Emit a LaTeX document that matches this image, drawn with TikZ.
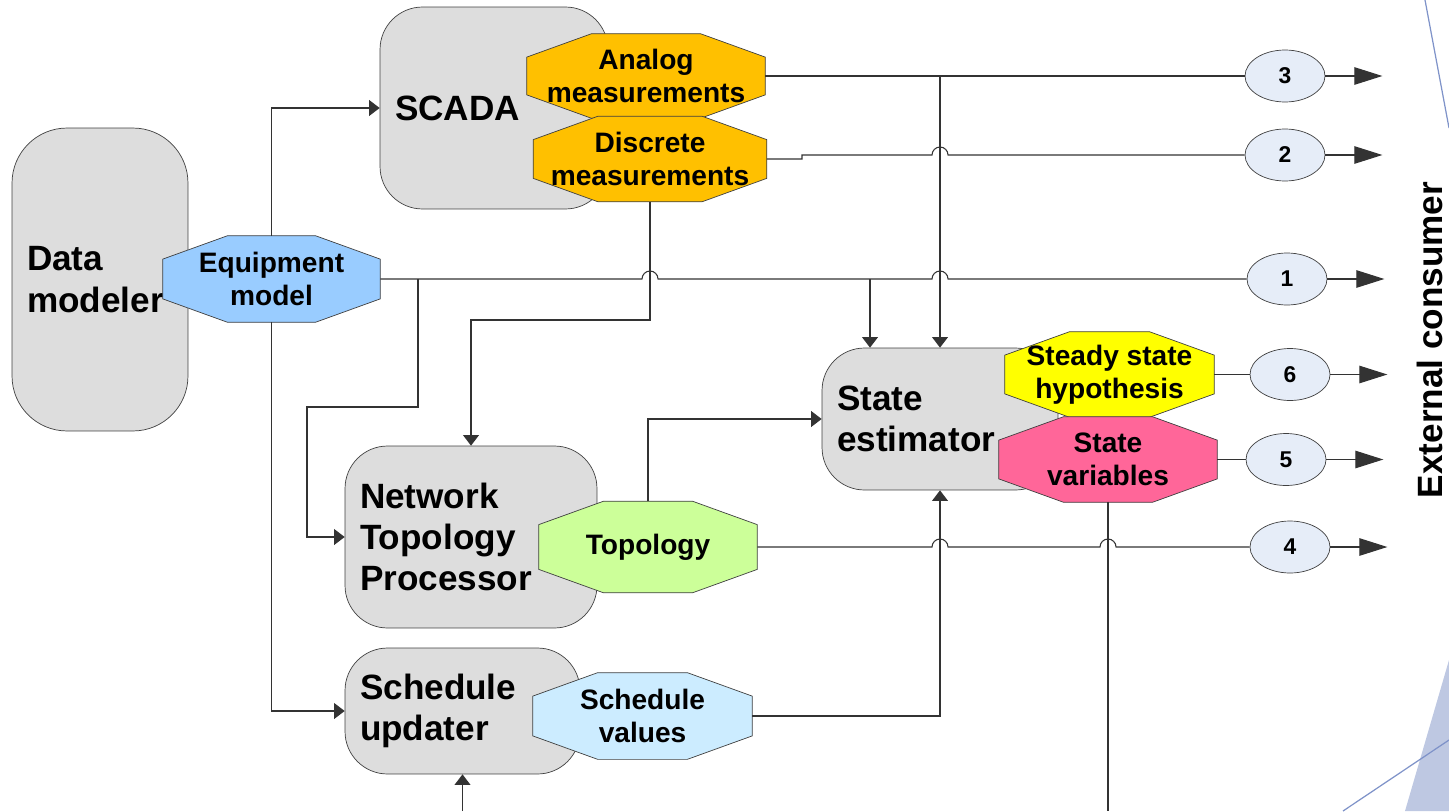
\documentclass[tikz,border=0pt]{standalone}
\usepackage{fontspec}
\setmainfont{Liberation Sans}
\usepackage{xcolor}
\usetikzlibrary{shapes.geometric, arrows.meta}

\definecolor{procgray}{HTML}{DDDDDD}
\definecolor{measorange}{HTML}{FFC000}
\definecolor{eqblue}{HTML}{99CCFF}
\definecolor{topogreen}{HTML}{CCFF99}
\definecolor{schedblue}{HTML}{CCECFF}
\definecolor{hypyellow}{HTML}{FFFF00}
\definecolor{varpink}{HTML}{FF6699}
\definecolor{outfill}{HTML}{E6EDF8}
\definecolor{decoblue}{HTML}{7F93C9}
\definecolor{decofill}{HTML}{BEC8E2}

% stretched octagon for the data sets
\newdimen\octxa \newdimen\octya \newdimen\octxb \newdimen\octyb
\def\octcutx{1.3cm}
\def\octcuty{0.47cm}
\pgfdeclareshape{octabox}{
  \inheritsavedanchors[from=rectangle]
  \inheritanchorborder[from=rectangle]
  \inheritanchor[from=rectangle]{center}
  \inheritanchor[from=rectangle]{north}
  \inheritanchor[from=rectangle]{south}
  \inheritanchor[from=rectangle]{east}
  \inheritanchor[from=rectangle]{west}
  \backgroundpath{
    \pgfextractx{\octxa}{\southwest}\pgfextracty{\octya}{\southwest}
    \pgfextractx{\octxb}{\northeast}\pgfextracty{\octyb}{\northeast}
    \pgfpathmoveto{\pgfpoint{\octxa}{\octya+\octcuty}}
    \pgfpathlineto{\pgfpoint{\octxa}{\octyb-\octcuty}}
    \pgfpathlineto{\pgfpoint{\octxa+\octcutx}{\octyb}}
    \pgfpathlineto{\pgfpoint{\octxb-\octcutx}{\octyb}}
    \pgfpathlineto{\pgfpoint{\octxb}{\octyb-\octcuty}}
    \pgfpathlineto{\pgfpoint{\octxb}{\octya+\octcuty}}
    \pgfpathlineto{\pgfpoint{\octxb-\octcutx}{\octya}}
    \pgfpathlineto{\pgfpoint{\octxa+\octcutx}{\octya}}
    \pgfpathclose
  }
}

\begin{document}
\begin{tikzpicture}[
    x = 0.02cm, y = -0.02cm,
    process/.style = {
        draw=black!75, fill=procgray, rectangle, rounded corners=0.85cm,
        align=left, inner xsep=0.3cm, inner ysep=0pt,
        font=\bfseries\fontsize{20}{23.5}\selectfont
    },
    store/.style = {
        draw=black!75, fill=#1, octabox,
        align=center, inner sep=0pt,
        font=\bfseries\fontsize{16}{18.5}\selectfont
    },
    consumer/.style = {
        draw=black!75, fill=outfill, ellipse,
        minimum width=1.6cm, minimum height=1.04cm, inner sep=0pt,
        font=\bfseries\fontsize{13}{15}\selectfont
    },
    flow/.style = {draw=black!80, line width=0.6pt},
    feedarrow/.style = {flow, -{Triangle[length=6pt, width=9pt]}},
    sinkarrow/.style = {flow, -{Triangle[length=16pt, width=10pt]}}
  ]
    \useasboundingbox (0,0) rectangle (1449,811);

    % decoration at the right edge
    \fill[decofill] (1449,660) -- (1405,811) -- (1449,811) -- cycle;
    \draw[decoblue, line width=0.7pt] (1425,0) -- (1449,128);
    \draw[decoblue, line width=0.7pt] (1343,811) -- (1449,740);

    % processes
    \node[process, text width=2.92cm, minimum height=6.06cm, rounded corners=1.1cm]
        (dm) at (100,279.5) {Data\\modeler};
    \node[process, text width=3.96cm, minimum height=4.04cm] (scada) at (494,108) {SCADA};
    \node[process, text width=4.44cm, minimum height=3.64cm] (ntp) at (471,537) {Network\\Topology\\Processor};
    \node[process, text width=4.10cm, minimum height=2.52cm] (sched) at (462.5,711) {Schedule\\updater};
    \node[process, text width=4.12cm, minimum height=2.84cm] (se) at (940,419) {State\\estimator};

    % data sets
    \node[store=eqblue, minimum width=4.34cm, minimum height=1.72cm] (eqmodel) at (271.5,279) {Equipment\\model};
    \node[store=measorange, minimum width=4.76cm, minimum height=1.68cm] (analog) at (646,76) {Analog\\measurements};
    \node[store=measorange, minimum width=4.66cm, minimum height=1.70cm] (discrete) at (650,159) {Discrete\\measurements};
    \node[store=topogreen, minimum width=4.36cm, minimum height=1.82cm] (topo) at (648,547) {Topology};
    \node[store=schedblue, minimum width=4.38cm, minimum height=1.72cm] (schedval) at (642.5,716) {Schedule\\values};
    \node[store=hypyellow, minimum width=4.18cm, minimum height=1.70cm] (steady) at (1109.5,374.5) {Steady state\\hypothesis};
    \node[store=varpink, minimum width=4.36cm, minimum height=1.70cm] (statevar) at (1108,459.5) {State\\variables};

    % outputs
    \node[consumer] (c3) at (1285,76) {3};
    \node[consumer] (c2) at (1285,155) {2};
    \node[consumer] (c1) at (1287,279) {1};
    \node[consumer] (c6) at (1290,374.5) {6};
    \node[consumer] (c5) at (1286,459.5) {5};
    \node[consumer] (c4) at (1290,547) {4};
    \node[rotate=90, font=\bfseries\fontsize{20}{24}\selectfont] (ext) at (1430,340) {External consumer};

    % junctions and loose ends
    \coordinate (anse) at (940,76);
    \coordinate (eqse) at (870,279);
    \coordinate (eqntp) at (418,279);
    \coordinate (schedsrc) at (462.5,811);
    \coordinate (varsink) at (1108,811);

    % equipment model
    \draw[feedarrow] (eqmodel.north) |- (scada.west);
    \draw[feedarrow] (eqmodel.south) |- (sched.west);
    \draw[flow] (eqmodel.east) -- (642,279) arc[start angle=180, end angle=360, radius=8]
        -- (932,279) arc[start angle=180, end angle=360, radius=8] -- (c1.west);
    \draw[feedarrow] (eqse) -- (eqse |- se.north);
    \draw[feedarrow] (eqntp) -- (418,407) -- (307,407) |- (ntp.west);

    % measurements
    \draw[flow] (analog.east) -- (c3.west);
    \draw[feedarrow] (anse) -- (se.north);
    \draw[flow] (discrete.east) -- (802,159) -- (802,155) -- (932,155)
        arc[start angle=180, end angle=360, radius=8] -- (c2.west);
    \draw[feedarrow] (discrete.south) -- (650,320) -| (ntp.north);

    % topology and schedules
    \draw[feedarrow] (topo.north) |- (se.west);
    \draw[flow] (topo.east) -- (932,547) arc[start angle=180, end angle=360, radius=8]
        -- (1100,547) arc[start angle=180, end angle=360, radius=8] -- (c4.west);
    \draw[feedarrow] (schedval.east) -| (se.south);
    \draw[feedarrow] (schedsrc) -- (sched.south);

    % state estimator results
    \draw[flow] (steady.east) -- (c6.west);
    \draw[flow] (statevar.east) -- (c5.west);
    \draw[flow] (statevar.south) -- (varsink);

    \foreach \n in {1,...,6}
        \draw[sinkarrow] (c\n.east) -- ++(57,0);
\end{tikzpicture}
\end{document}
